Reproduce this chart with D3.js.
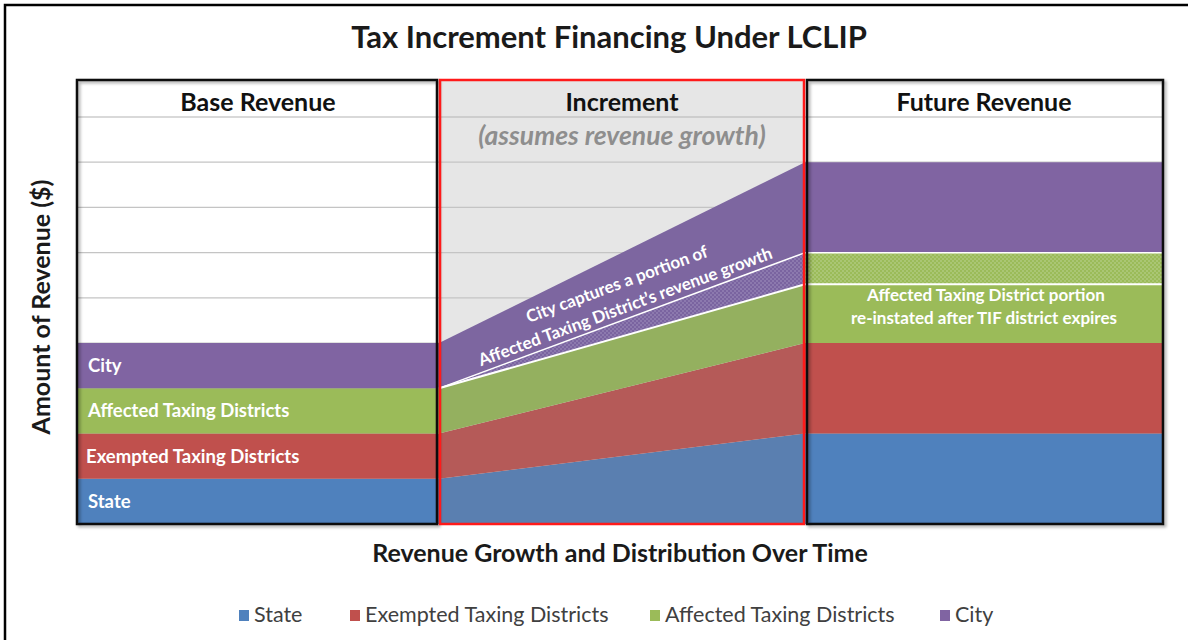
<!DOCTYPE html>
<html>
<head>
<meta charset="utf-8">
<script src="https://cdn.jsdelivr.net/npm/d3@7"></script>
<style>
  html, body { margin: 0; padding: 0; background: #fff; }
  svg { display: block; font-family: Lato, "Open Sans", sans-serif; }
</style>
</head>
<body>
<div id="chart"></div>
<script>
  // ---- data ----
  var categories = ["State", "Exempted Taxing Districts", "Affected Taxing Districts", "City"];
  var stages = ["Base Revenue", "Increment", "Future Revenue"];
  // stage boundaries: 0 = base start, 1 = increment start, 2 = future start, 3 = end
  var stagePoints = [0, 1, 2, 3];
  var stateVals = [1, 1, 2, 2];
  var exemptedVals = [1, 1, 2, 2];
  var affectedVals = [1, 1, 1.3, 1.3];
  var capturedVals = [0, 0, 0.7, 0.7];   // affected district growth captured by city
  var cityVals = [1, 1, 2, 2];
  var gridTicks = [1, 2, 3, 4, 5, 6, 7, 8, 9];

  var COL = { state: "#4f81bd", exempted: "#c0504d", affected: "#9bbb59", city: "#8064a2" };
  // muted versions used inside the increment panel
  var COL_INC = { state: "#5a7fb0", exempted: "#b55a58", affected: "#94b05f", city: "#7d66a0" };

  var W = 1188, H = 640;
  var svg = d3.select("#chart").append("svg").attr("width", W).attr("height", H);
  var defs = svg.append("defs");

  function dots(id, bg, dot) {
    var p = defs.append("pattern").attr("id", id).attr("width", 4).attr("height", 4)
      .attr("patternUnits", "userSpaceOnUse");
    p.append("rect").attr("width", 4).attr("height", 4).attr("fill", bg);
    p.append("rect").attr("width", 2).attr("height", 2).attr("fill", dot);
    p.append("rect").attr("x", 2).attr("y", 2).attr("width", 2).attr("height", 2).attr("fill", dot);
  }
  dots("dotPurple", "#7a64a0", "#8c79ae");
  dots("dotGreen", "#9bbb59", "#aac674");

  var sh = defs.append("filter").attr("id", "shadow").attr("x", "-5%").attr("y", "-5%")
    .attr("width", "110%").attr("height", "110%");
  sh.append("feDropShadow").attr("dx", 2).attr("dy", 2).attr("stdDeviation", 1.5)
    .attr("flood-color", "#000").attr("flood-opacity", 0.35);

  // outer frame
  svg.append("rect").attr("x", 5).attr("y", 5).attr("width", W).attr("height", H)
    .attr("fill", "none").attr("stroke", "#000").attr("stroke-width", 2.5);

  var x = d3.scaleLinear().domain(stagePoints).range([77, 439, 805, 1163]);
  var y = d3.scaleLinear().domain([0, 9]).range([524, 117]);
  var panelTop = 80;

  // panel backgrounds
  var panels = svg.append("g");
  stages.forEach(function (s, i) {
    panels.append("rect")
      .attr("x", x(i)).attr("y", panelTop).attr("width", x(i + 1) - x(i)).attr("height", y(0) - panelTop)
      .attr("fill", i === 1 ? "#e6e6e6" : "#fff");
  });

  // gridlines
  svg.append("g").selectAll("line").data(gridTicks).join("line")
    .attr("x1", x(0)).attr("x2", x(3))
    .attr("y1", function (d) { return y(d); }).attr("y2", function (d) { return y(d); })
    .attr("stroke", function (d) { return d === 9 ? "#b4b4b4" : "#c4c4c4"; })
    .attr("stroke-width", 1.2);

  // stacked areas
  var rows = stagePoints.map(function (p, i) {
    return { x: p, state: stateVals[i], exempted: exemptedVals[i], affected: affectedVals[i],
      captured: capturedVals[i], city: cityVals[i] };
  });
  var keys = ["state", "exempted", "affected", "captured", "city"];
  var series = d3.stack().keys(keys)(rows);

  var area = d3.area()
    .x(function (d) { return x(d.data.x); })
    .y0(function (d) { return y(d[0]); })
    .y1(function (d) { return y(d[1]); });

  function fillFor(key, seg) {
    if (key === "captured") return seg === 2 ? "url(#dotGreen)" : "url(#dotPurple)";
    return seg === 1 ? COL_INC[key] : COL[key];
  }

  var areas = svg.append("g");
  [0, 1, 2].forEach(function (seg) {
    series.forEach(function (s) {
      areas.append("path")
        .datum(s.slice(seg, seg + 2))
        .attr("d", area)
        .attr("fill", fillFor(s.key, seg));
    });
  });

  // white separators around captured band
  var line = d3.line().x(function (d) { return x(d.data.x); }).y(function (d) { return y(d[1]); });
  var capIdx = keys.indexOf("captured"), affIdx = keys.indexOf("affected");
  [affIdx, capIdx].forEach(function (k) {
    areas.append("path").datum(series[k].slice(1)).attr("d", line)
      .attr("fill", "none").attr("stroke", "#fff").attr("stroke-width", k === affIdx ? 2 : 1.5);
  });

  // panel borders
  var borders = svg.append("g").attr("filter", "url(#shadow)");
  stages.forEach(function (s, i) {
    if (i === 1) return;
    borders.append("rect")
      .attr("x", x(i) + (i === 2 ? 2 : 0)).attr("y", panelTop)
      .attr("width", x(i + 1) - x(i) - 2).attr("height", y(0) - panelTop)
      .attr("fill", "none").attr("stroke", "#111").attr("stroke-width", 2.5);
  });
  svg.append("rect")
    .attr("x", x(1) + 1).attr("y", panelTop).attr("width", x(2) - x(1) - 2).attr("height", y(0) - panelTop)
    .attr("fill", "none").attr("stroke", "#ff1a1a").attr("stroke-width", 2.5);

  // headers
  svg.append("g").selectAll("text").data(stages).join("text")
    .attr("x", function (d, i) { return (x(i) + x(i + 1)) / 2; })
    .attr("y", 111)
    .attr("text-anchor", "middle").attr("font-size", 25).attr("font-weight", 700).attr("fill", "#111")
    .text(function (d) { return d; });
  svg.append("text").attr("x", (x(1) + x(2)) / 2).attr("y", 145)
    .attr("text-anchor", "middle").attr("font-size", 26.5).attr("font-weight", 700)
    .attr("font-style", "italic").attr("fill", "#8e8e8e")
    .text("(assumes revenue growth)");

  // base labels
  var baseLabels = categories.map(function (c, i) { return { name: c, mid: i + 0.5 }; });
  svg.append("g").selectAll("text").data(baseLabels).join("text")
    .attr("x", function (d, i) { return i === 1 ? 86 : 88; })
    .attr("y", function (d) { return y(d.mid) + 6.5; })
    .attr("font-size", 18.5).attr("font-weight", 700).attr("fill", "#fff")
    .text(function (d) { return d.name; });

  // rotated annotation in increment
  var capTop = series[capIdx];
  var p0 = [x(1), y(capTop[1][1])], p1 = [x(2), y(capTop[2][1])];
  var ang = Math.atan2(p1[1] - p0[1], p1[0] - p0[0]) * 180 / Math.PI;
  var t = 0.52;
  var cx = p0[0] + (p1[0] - p0[0]) * t, cy = p0[1] + (p1[1] - p0[1]) * t;
  var ann = svg.append("g").attr("transform", "translate(" + cx + "," + cy + ") rotate(" + ang + ")");
  ann.append("text").attr("y", -30).attr("text-anchor", "middle")
    .attr("font-size", 17).attr("font-weight", 700).attr("fill", "#fff")
    .text("City captures a portion of");
  ann.append("text").attr("y", -6).attr("text-anchor", "middle")
    .attr("font-size", 17).attr("font-weight", 700).attr("fill", "#fff")
    .text("Affected Taxing District\u2019s revenue growth");

  // future annotation
  var fx = (x(2) + x(3)) / 2;
  svg.append("text").attr("x", fx + 2).attr("y", 301).attr("text-anchor", "middle")
    .attr("font-size", 17).attr("font-weight", 700).attr("fill", "#fff")
    .text("Affected Taxing District  portion");
  svg.append("text").attr("x", fx).attr("y", 324).attr("text-anchor", "middle")
    .attr("font-size", 17).attr("font-weight", 700).attr("fill", "#fff")
    .text("re-instated after TIF district expires");

  // title and axis titles
  svg.append("text").attr("x", 609).attr("y", 48).attr("text-anchor", "middle")
    .attr("font-size", 31).attr("font-weight", 700).attr("fill", "#1a1a1a")
    .text("Tax Increment Financing Under LCLIP");
  svg.append("text").attr("x", 620).attr("y", 562).attr("text-anchor", "middle")
    .attr("font-size", 25).attr("font-weight", 700).attr("fill", "#1a1a1a")
    .text("Revenue Growth and Distribution Over Time");
  svg.append("text").attr("transform", "translate(50,307) rotate(-90)").attr("text-anchor", "middle")
    .attr("font-size", 25).attr("font-weight", 700).attr("fill", "#1a1a1a")
    .text("Amount of Revenue ($)");

  // legend
  var legendX = [239, 350, 650, 940];
  var legCols = [COL.state, COL.exempted, COL.affected, COL.city];
  var leg = svg.append("g").selectAll("g").data(categories).join("g")
    .attr("transform", function (d, i) { return "translate(" + legendX[i] + ",615)"; });
  leg.append("rect").attr("x", 0).attr("y", -5).attr("width", 10).attr("height", 11)
    .attr("fill", function (d, i) { return legCols[i]; });
  leg.append("text").attr("x", 15).attr("y", 7).attr("font-size", 21.5).attr("fill", "#404040")
    .text(function (d) { return d; });
</script>
</body>
</html>
